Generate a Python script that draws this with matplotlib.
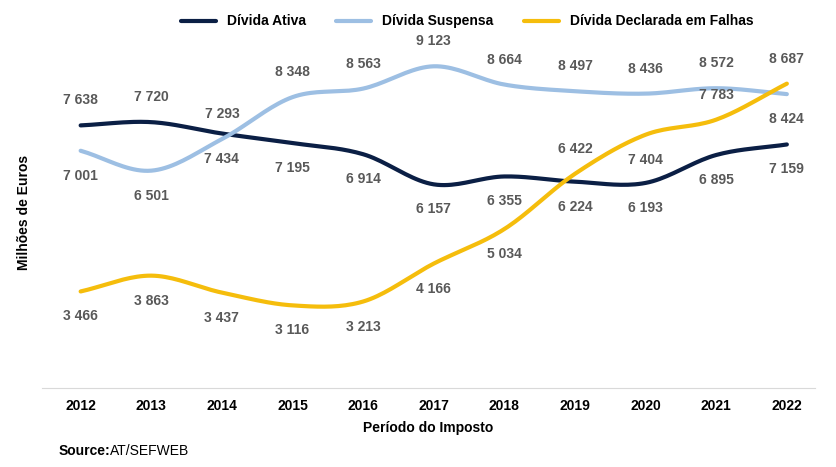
import numpy as np
import matplotlib
matplotlib.use("Agg")
import matplotlib.pyplot as plt

plt.rcParams["font.family"] = ["Liberation Sans", "DejaVu Sans"]

years = [2012, 2013, 2014, 2015, 2016, 2017, 2018, 2019, 2020, 2021, 2022]
ativa = [7638, 7720, 7434, 7195, 6914, 6157, 6355, 6224, 6193, 6895, 7159]
suspensa = [7001, 6501, 7293, 8348, 8563, 9123, 8664, 8497, 8436, 8572, 8424]
declarada = [3466, 3863, 3437, 3116, 3213, 4166, 5034, 6422, 7404, 7783, 8687]
# label placement: 1 above the line, -1 below
ativa_pos = [1, 1, -1, -1, -1, -1, -1, -1, -1, -1, -1]
suspensa_pos = [-1, -1, 1, 1, 1, 1, 1, 1, 1, 1, -1]
declarada_pos = [-1, -1, -1, -1, -1, -1, -1, 1, -1, 1, 1]


def smooth(x, y, n=20):
    # cubic Hermite curve through the points (display smoothing only)
    x = np.asarray(x, float)
    y = np.asarray(y, float)
    m = np.gradient(y, x)
    xs, ys = [], []
    for i in range(len(x) - 1):
        t = np.linspace(0, 1, n, endpoint=False)
        h = x[i + 1] - x[i]
        h00 = 2 * t**3 - 3 * t**2 + 1
        h10 = t**3 - 2 * t**2 + t
        h01 = -2 * t**3 + 3 * t**2
        h11 = t**3 - t**2
        xs.append(x[i] + t * h)
        ys.append(h00 * y[i] + h10 * h * m[i] + h01 * y[i + 1] + h11 * h * m[i + 1])
    xs.append([x[-1]])
    ys.append([y[-1]])
    return np.concatenate(xs), np.concatenate(ys)


fig = plt.figure(figsize=(8.36, 4.67), dpi=100)
ax = fig.add_axes([0.05, 0.17, 0.925, 0.75])

series = [
    ("Dívida Ativa", ativa, ativa_pos, "#0b1f45"),
    ("Dívida Suspensa", suspensa, suspensa_pos, "#9dbfe3"),
    ("Dívida Declarada em Falhas", declarada, declarada_pos, "#f5bd0c"),
]
for name, vals, pos, col in series:
    sx, sy = smooth(years, vals)
    ax.plot(sx, sy, color=col, lw=3, label=name, solid_capstyle="round")
    for x, v, p in zip(years, vals, pos):
        lab = f"{v:,}".replace(",", " ")
        ax.annotate(lab, (x, v), xytext=(0, 18 * p), textcoords="offset points",
                    ha="center", va="center", fontsize=10, fontweight="bold",
                    color="#595959")

ax.set_xlim(2011.45, 2022.4)
ax.set_ylim(1050, 9850)
ax.set_yticks([])
ax.set_xticks(years)
ax.tick_params(axis="x", length=0, labelsize=10, pad=8)
for t in ax.get_xticklabels():
    t.set_fontweight("bold")
for s in ["top", "right", "left"]:
    ax.spines[s].set_visible(False)
ax.spines["bottom"].set_color("#d9d9d9")
ax.set_xlabel("Período do Imposto", fontsize=10, fontweight="bold", labelpad=6)
ax.set_ylabel("Milhões de Euros", fontsize=10, fontweight="bold", labelpad=8)
ax.legend(loc="lower center", bbox_to_anchor=(0.55, 0.99), ncol=3, frameon=False,
          prop={"weight": "bold", "size": 10}, handlelength=2.5, columnspacing=2.2)
fig.text(0.07, 0.025, "Source:", fontsize=10, fontweight="bold")
fig.text(0.132, 0.025, "AT/SEFWEB", fontsize=10)
fig.savefig("out.png", dpi=100)
